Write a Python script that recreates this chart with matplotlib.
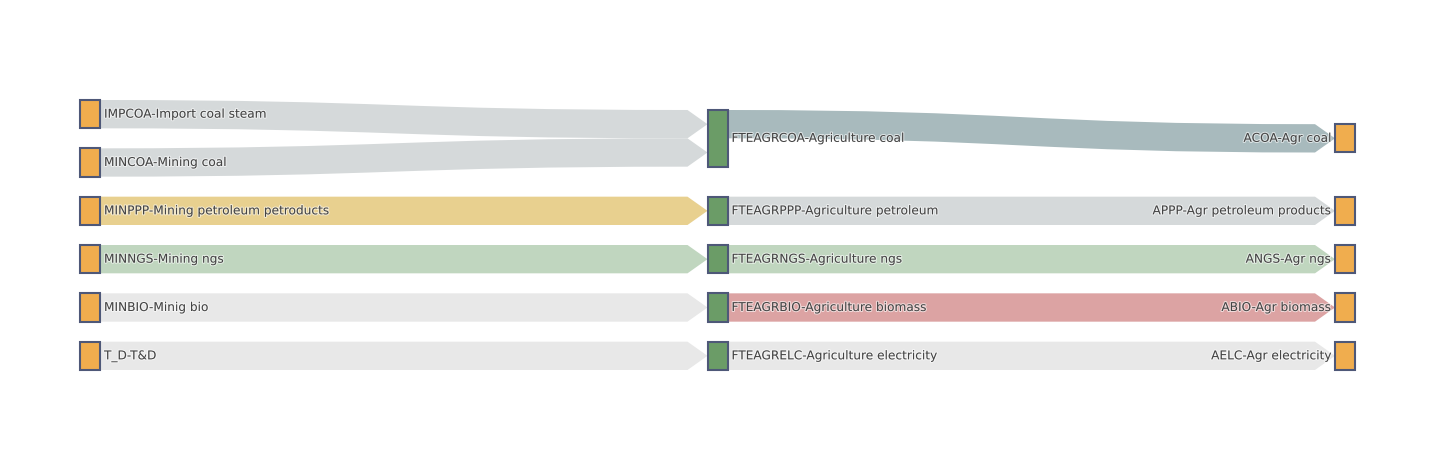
import matplotlib
matplotlib.use("Agg")
import matplotlib.pyplot as plt
import matplotlib.patheffects as pe
from matplotlib.path import Path
from matplotlib.patches import PathPatch, Rectangle

# nodes
labels = [
    "IMPCOA-Import coal steam", "MINCOA-Mining coal", "MINPPP-Mining petroleum petroducts",
    "MINNGS-Mining ngs", "MINBIO-Minig bio", "T_D-T&D",
    "FTEAGRCOA-Agriculture coal", "FTEAGRPPP-Agriculture petroleum", "FTEAGRNGS-Agriculture ngs",
    "FTEAGRBIO-Agriculture biomass", "FTEAGRELC-Agriculture electricity",
    "ACOA-Agr coal", "APPP-Agr petroleum products", "ANGS-Agr ngs",
    "ABIO-Agr biomass", "AELC-Agr electricity",
]
columns = [0, 0, 0, 0, 0, 0, 1, 1, 1, 1, 1, 2, 2, 2, 2, 2]
node_colors = ["#f0ad4e"] * 6 + ["#6b9c67"] * 5 + ["#f0ad4e"] * 5

# links
sources = [0, 1, 2, 3, 4, 5, 6, 7, 8, 9, 10]
targets = [6, 6, 7, 8, 9, 10, 11, 12, 13, 14, 15]
values = [1, 1, 1, 1, 1, 1, 1, 1, 1, 1, 1]
link_colors = ["#d5d9da", "#d5d9da", "#e8d08f", "#c0d6bf", "#e8e8e8", "#e8e8e8",
               "#a8babd", "#d5d9da", "#c0d6bf", "#dca3a3", "#e8e8e8"]

W, H = 1435, 450
ml, mr, mt, mb = 80, 80, 100, 80
node_w = 20
pad = 20
arrow_len = 20

fig = plt.figure(figsize=(W / 100, H / 100), dpi=100)
ax = fig.add_axes([0, 0, 1, 1])
ax.set_xlim(0, W)
ax.set_ylim(H, 0)
ax.axis("off")

n = len(labels)
inflow = [0.0] * n
outflow = [0.0] * n
for s, t, v in zip(sources, targets, values):
    outflow[s] += v
    inflow[t] += v
node_val = [max(a, b) for a, b in zip(inflow, outflow)]

ncol = max(columns) + 1
plot_h = H - mt - mb
first = [i for i in range(n) if columns[i] == 0]
ky = (plot_h - pad * (len(first) - 1)) / sum(node_val[i] for i in first)

node_x = [ml + c * (W - ml - mr - node_w) / (ncol - 1) for c in columns]
node_y = [0.0] * n
node_h = [node_val[i] * ky for i in range(n)]

# first column stacked; later columns centred on their sources
y = mt
for i in first:
    node_y[i] = y
    y += node_h[i] + pad
for c in range(1, ncol):
    for i in range(n):
        if columns[i] != c:
            continue
        num = 0.0
        den = 0.0
        for s, t, v in zip(sources, targets, values):
            if t == i:
                num += (node_y[s] + node_h[s] / 2) * v
                den += v
        node_y[i] = num / den - node_h[i] / 2

# links
out_off = [0.0] * n
in_off = [0.0] * n
for s, t, v, col in zip(sources, targets, values, link_colors):
    w = v * ky
    x0 = node_x[s] + node_w
    x1 = node_x[t]
    xa = x1 - arrow_len
    xm = (x0 + xa) / 2
    y0a = node_y[s] + out_off[s]
    y0b = y0a + w
    y1a = node_y[t] + in_off[t]
    y1b = y1a + w
    out_off[s] += w
    in_off[t] += w
    verts = [(x0, y0a), (xm, y0a), (xm, y1a), (xa, y1a),
             (x1, (y1a + y1b) / 2), (xa, y1b),
             (xm, y1b), (xm, y0b), (x0, y0b), (x0, y0a)]
    codes = [Path.MOVETO, Path.CURVE4, Path.CURVE4, Path.CURVE4,
             Path.LINETO, Path.LINETO,
             Path.CURVE4, Path.CURVE4, Path.CURVE4, Path.CLOSEPOLY]
    ax.add_patch(PathPatch(Path(verts, codes), facecolor=col, edgecolor="none", zorder=1))

# nodes and labels
shadow = [pe.withStroke(linewidth=1.5, foreground="white", alpha=0.6)]
for i in range(n):
    ax.add_patch(Rectangle((node_x[i], node_y[i]), node_w, node_h[i],
                           facecolor=node_colors[i], edgecolor="#4e5878",
                           linewidth=1.5, zorder=2))
    cy = node_y[i] + node_h[i] / 2
    if columns[i] == ncol - 1:
        ax.text(node_x[i] - 4, cy, labels[i], ha="right", va="center",
                fontsize=8.75, color="#444444", path_effects=shadow, zorder=3)
    else:
        ax.text(node_x[i] + node_w + 4, cy, labels[i], ha="left", va="center",
                fontsize=8.75, color="#444444", path_effects=shadow, zorder=3)

fig.savefig("out.png", dpi=100, facecolor="white")
